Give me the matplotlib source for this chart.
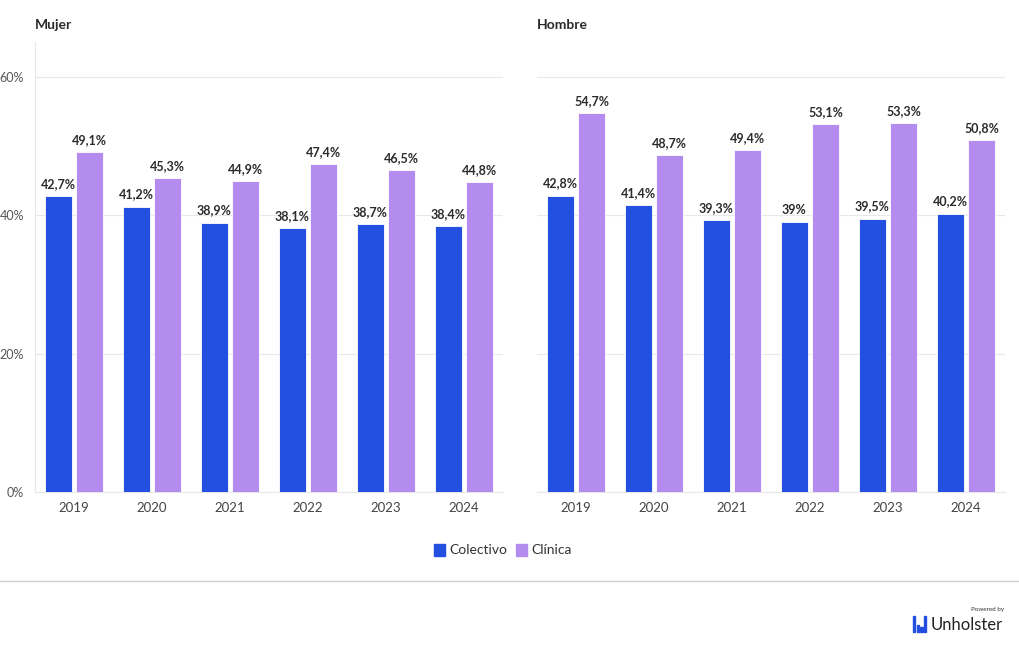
import matplotlib.pyplot as plt
import numpy as np

plt.rcParams['font.family'] = ['Lato', 'DejaVu Sans']

years = ["2019", "2020", "2021", "2022", "2023", "2024"]
mujer_colectivo = [42.7, 41.2, 38.9, 38.1, 38.7, 38.4]
mujer_clinica = [49.1, 45.3, 44.9, 47.4, 46.5, 44.8]
hombre_colectivo = [42.8, 41.4, 39.3, 39.0, 39.5, 40.2]
hombre_clinica = [54.7, 48.7, 49.4, 53.1, 53.3, 50.8]

blue = "#2350E0"
purple = "#B48CF0"
grid_col = "#E8E8E8"


def fmt(v):
    s = ("%.1f" % v).replace(".", ",")
    if s.endswith(",0"):
        s = s[:-2]
    return s + "%"


fig = plt.figure(figsize=(10.2, 6.5), dpi=100)
ax1 = fig.add_axes([35 / 1020, 158 / 650, 468 / 1020, 450 / 650])
ax2 = fig.add_axes([537 / 1020, 158 / 650, 468 / 1020, 450 / 650])

x = np.arange(len(years))
w = 0.355
for ax, col, cli, title, show_y in [(ax1, mujer_colectivo, mujer_clinica, "Mujer", True),
                                      (ax2, hombre_colectivo, hombre_clinica, "Hombre", False)]:
    b1 = ax.bar(x - 0.2, col, w, color=blue, edgecolor="white", linewidth=0.6, zorder=3)
    b2 = ax.bar(x + 0.2, cli, w, color=purple, edgecolor="white", linewidth=0.6, zorder=3)
    for bars, vals in [(b1, col), (b2, cli)]:
        for r, v in zip(bars, vals):
            ax.text(r.get_x() + r.get_width() / 2, v + 0.9, fmt(v), ha="center", va="bottom",
                    fontsize=9, fontweight="bold", color="#2b2b2b", zorder=4)
    ax.set_xlim(-0.5, len(years) - 0.5)
    ax.set_ylim(0, 65)
    ax.set_yticks([0, 20, 40, 60])
    ax.yaxis.grid(True, color=grid_col, linewidth=0.8, zorder=0)
    ax.set_xticks(x)
    ax.set_xticklabels(years, fontsize=9.5, color="#444444")
    ax.tick_params(axis="x", length=0, pad=7)
    ax.tick_params(axis="y", length=0, pad=8)
    for s in ["top", "right"]:
        ax.spines[s].set_visible(False)
    ax.spines["bottom"].set_color(grid_col)
    if show_y:
        ax.set_yticklabels(["0%", "20%", "40%", "60%"], fontsize=9, color="#555555")
        ax.spines["left"].set_color(grid_col)
    else:
        ax.set_yticklabels([])
        ax.spines["left"].set_visible(False)
    fig.text(ax.get_position().x0, 1 - 25 / 650, title, fontsize=10, fontweight="bold",
             color="#2b2b2b", va="center", ha="left")

# legend
handles = [plt.Rectangle((0, 0), 1, 1, color=blue), plt.Rectangle((0, 0), 1, 1, color=purple)]
fig.legend(handles, ["Colectivo", "Clínica"], loc="center", bbox_to_anchor=(503 / 1020, 1 - 550 / 650),
           ncol=2, frameon=False, fontsize=10, handlelength=0.8, handleheight=1.0,
           handletextpad=0.3, columnspacing=0.6, labelcolor="#333333")

# separator line
fig.add_artist(plt.Line2D([0, 1], [1 - 581 / 650, 1 - 581 / 650], color="#D0D0D0", linewidth=1))

# logo
lx, ly = 913 / 1020, 1 - 632 / 650
for i, hgt in enumerate([16, 7, 5, 16]):
    fig.add_artist(plt.Rectangle((lx + i * 3.6 / 1020, ly), 2.4 / 1020, hgt / 650, color=blue,
                                 transform=fig.transFigure))
fig.text(931 / 1020, 1 - 625 / 650, "Unholster", fontsize=12, color="#222222", va="center", ha="left")
fig.text(1004 / 1020, 1 - 612 / 650, "Powered by", fontsize=4.5, color="#333333", va="bottom", ha="right")

fig.savefig("out.png", dpi=100, facecolor="white")
